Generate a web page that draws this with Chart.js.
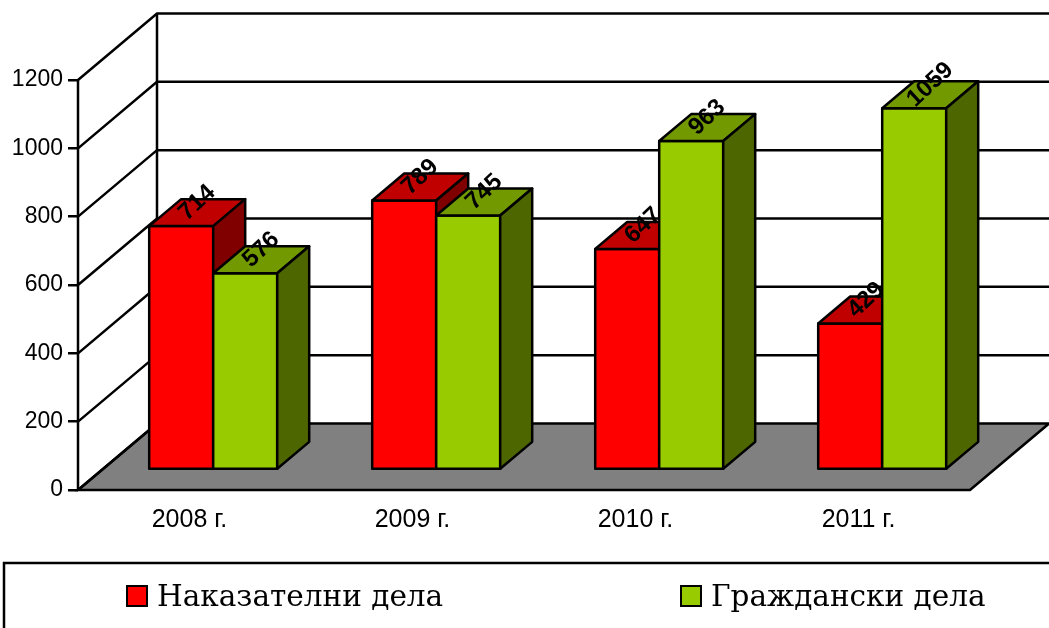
<!DOCTYPE html>
<html><head><meta charset="utf-8">
<script src="https://cdn.jsdelivr.net/npm/chart.js@4.4.1/dist/chart.umd.min.js"></script>
<style>html,body{margin:0;padding:0;background:#fff;overflow:hidden}canvas{display:block}</style>
</head><body>
<canvas id="c" width="1049" height="628"></canvas>
<script>
// ---- data ----
const categories = ['2008 г.', '2009 г.', '2010 г.', '2011 г.'];
const seriesNames = ['Наказателни дела', 'Граждански дела'];
const criminalCases = [714, 789, 647, 429];
const civilCases = [576, 745, 963, 1059];
const yTickValues = [0, 200, 400, 600, 800, 1000, 1200];

// ---- styles ----
const frontColors = ['#FF0000', '#99CC00'];
const topColors = ['#C00000', '#739900'];
const sideColors = ['#800000', '#4D6600'];
const DEPTH_X = 79, DEPTH_Y = -66.5;     // full depth of the 3D box
const BAR_FRONT = 0.30, BAR_BACK = 0.705; // depth fraction of bar front/back faces
const LW = 2.5;
const SANS = "'Liberation Sans', Arial, sans-serif";

const threeD = {
  id: 'threeD',
  beforeDatasetsDraw(chart) {
    const ctx = chart.ctx;
    const {left, right, top, bottom} = chart.chartArea;
    const ys = chart.scales.y;
    ctx.save();
    ctx.lineWidth = LW;
    ctx.strokeStyle = '#000';
    ctx.lineJoin = 'miter';
    // floor
    ctx.beginPath();
    ctx.moveTo(left, bottom);
    ctx.lineTo(right, bottom);
    ctx.lineTo(right + DEPTH_X, bottom + DEPTH_Y);
    ctx.lineTo(left + DEPTH_X, bottom + DEPTH_Y);
    ctx.closePath();
    ctx.fillStyle = '#808080';
    ctx.fill();
    ctx.stroke();
    // side wall diagonals + back wall gridlines
    yTickValues.forEach(v => {
      const py = ys.getPixelForValue(v);
      ctx.beginPath();
      ctx.moveTo(left, py);
      ctx.lineTo(left + DEPTH_X, py + DEPTH_Y);
      if (v !== 0) ctx.lineTo(right + DEPTH_X + 2, py + DEPTH_Y);
      ctx.stroke();
    });
    // back wall vertical edge
    const yTop = ys.getPixelForValue(yTickValues[yTickValues.length - 1]);
    ctx.beginPath();
    ctx.moveTo(left + DEPTH_X, yTop + DEPTH_Y);
    ctx.lineTo(left + DEPTH_X, bottom + DEPTH_Y);
    ctx.stroke();
    // front value axis
    ctx.beginPath();
    ctx.moveTo(left, yTop);
    ctx.lineTo(left, bottom);
    ctx.stroke();
    ctx.restore();
  },
  beforeDatasetDraw() { return false; },
  afterDatasetsDraw(chart) {
    const ctx = chart.ctx;
    const sx = BAR_FRONT * DEPTH_X, sy = BAR_FRONT * DEPTH_Y;
    const bx = (BAR_BACK - BAR_FRONT) * DEPTH_X, by = (BAR_BACK - BAR_FRONT) * DEPTH_Y;
    ctx.save();
    ctx.lineWidth = LW;
    ctx.strokeStyle = '#000';
    ctx.lineJoin = 'round';
    const n = chart.data.labels.length;
    for (let i = 0; i < n; i++) {
      chart.data.datasets.forEach((ds, d) => {
        const el = chart.getDatasetMeta(d).data[i];
        const p = el.getProps(['x', 'y', 'base', 'width'], true);
        const L = p.x - p.width / 2 + sx, R = p.x + p.width / 2 + sx;
        const T = p.y + sy, B = p.base + sy;
        // front
        ctx.fillStyle = frontColors[d];
        ctx.beginPath(); ctx.rect(L, T, R - L, B - T); ctx.fill(); ctx.stroke();
        // top
        ctx.fillStyle = topColors[d];
        ctx.beginPath();
        ctx.moveTo(L, T); ctx.lineTo(R, T); ctx.lineTo(R + bx, T + by); ctx.lineTo(L + bx, T + by);
        ctx.closePath(); ctx.fill(); ctx.stroke();
        // side
        ctx.fillStyle = sideColors[d];
        ctx.beginPath();
        ctx.moveTo(R, T); ctx.lineTo(R + bx, T + by); ctx.lineTo(R + bx, B + by); ctx.lineTo(R, B);
        ctx.closePath(); ctx.fill(); ctx.stroke();
        // value label
        const cx = (L + R) / 2 + bx / 2, cy = T + by / 2 - 10;
        ctx.save();
        ctx.translate(cx, cy);
        ctx.rotate(-43 * Math.PI / 180);
        ctx.fillStyle = '#000';
        ctx.font = 'bold 24px ' + SANS;
        ctx.textAlign = 'center';
        ctx.textBaseline = 'middle';
        ctx.fillText(String(ds.data[i]), 0, 0);
        ctx.restore();
      });
    }
    ctx.restore();
  },
  afterDraw(chart) {
    const ctx = chart.ctx;
    ctx.save();
    ctx.lineWidth = LW;
    ctx.strokeStyle = '#000';
    ctx.strokeRect(4, 563, 1100, 100);
    const xs = [127, 681];
    chart.data.datasets.forEach((ds, d) => {
      ctx.lineWidth = 2;
      ctx.fillStyle = frontColors[d];
      ctx.fillRect(xs[d], 586, 20, 20);
      ctx.strokeRect(xs[d], 586, 20, 20);
      ctx.fillStyle = '#000';
      ctx.font = "29.5px 'DejaVu Serif', serif";
      ctx.textAlign = 'left';
      ctx.textBaseline = 'alphabetic';
      ctx.fillText(ds.label, xs[d] + 30, 606);
    });
    ctx.restore();
  }
};

new Chart(document.getElementById('c'), {
  type: 'bar',
  data: {
    labels: categories,
    datasets: [
      {label: seriesNames[0], data: criminalCases, backgroundColor: frontColors[0]},
      {label: seriesNames[1], data: civilCases, backgroundColor: frontColors[1]}
    ]
  },
  options: {
    responsive: false,
    animation: false,
    devicePixelRatio: 1,
    layout: {padding: {left: 0, top: 80, right: 79, bottom: 88}},
    plugins: {legend: {display: false}, tooltip: {enabled: false}},
    datasets: {bar: {categoryPercentage: 0.574, barPercentage: 1}},
    scales: {
      x: {
        grid: {display: false, drawTicks: false},
        border: {display: false},
        ticks: {font: {family: SANS, size: 25}, color: '#000', padding: 15, maxRotation: 0},
        afterFit(s) { s.height = 50; }
      },
      y: {
        min: 0, max: 1200,
        grid: {drawOnChartArea: false, drawTicks: true, tickLength: 10, color: '#000', lineWidth: LW},
        border: {display: false},
        ticks: {stepSize: 200, font: {family: SANS, size: 23}, color: '#000', padding: 5,
                callback: v => String(v)},
        afterFit(s) { s.width = 78; }
      }
    }
  },
  plugins: [threeD]
});
</script>
</body></html>
